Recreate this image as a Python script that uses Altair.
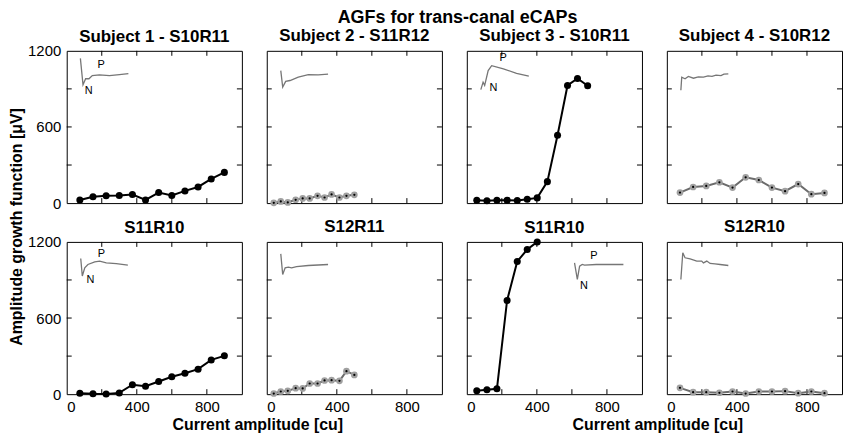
import altair as alt
import pandas as pd

FONT = "Liberation Sans"
MAIN_TITLE = "AGFs for trans-canal eCAPs"
X_TITLE = "Current amplitude [cu]"
Y_TITLE = "Amplitude growth function [μV]"

panel_titles = ["Subject 1 - S10R11", "Subject 2 - S11R12", "Subject 3 - S10R11", "Subject 4 - S10R12",
                "S11R10", "S12R11", "S11R10", "S12R10"]
panel_styles = ["black", "gray", "black", "gray", "black", "gray", "black", "gray"]

x_ticks_vals = [200, 400, 600, 800]
y_ticks_vals = [300, 600, 900]
x_label_vals = [0, 400, 800]
y_label_vals = [0, 600, 1200]

# AGF data (current amplitude [cu], amplitude [uV])
p1_x = [75, 150, 225, 300, 375, 450, 525, 600, 675, 750, 825, 900]
p1_y = [25, 50, 57, 60, 68, 25, 83, 60, 96, 127, 190, 242]
p2_x = [40, 80, 120, 165, 205, 245, 290, 330, 370, 415, 455, 500]
p2_y = [2, 13, 5, 26, 37, 37, 57, 44, 68, 44, 57, 65]
p3_x = [57, 115, 172, 230, 288, 345, 402, 460, 518, 575, 632, 690]
p3_y = [23, 18, 23, 23, 21, 31, 41, 169, 535, 927, 982, 925]
p4_x = [75, 150, 225, 300, 375, 450, 525, 600, 675, 750, 825, 900]
p4_y = [83, 127, 135, 164, 122, 203, 182, 122, 94, 150, 70, 80]
p5_x = [75, 150, 225, 300, 375, 450, 525, 600, 675, 750, 825, 900]
p5_y = [8, 3, 2, 10, 75, 63, 100, 137, 165, 197, 270, 302]
p6_x = [40, 80, 120, 165, 205, 245, 290, 330, 370, 415, 455, 500]
p6_y = [5, 21, 26, 47, 45, 84, 84, 108, 110, 105, 181, 152]
p7_x = [57, 115, 172, 230, 288, 345, 402]
p7_y = [27, 35, 42, 739, 1046, 1140, 1200]
p8_x = [75, 150, 225, 300, 375, 450, 525, 600, 675, 750, 825, 900]
p8_y = [50, 16, 16, 11, 21, 5, 21, 21, 24, 8, 21, 8]

# inset eCAP waveforms (drawn in panel data coordinates)
w1_x = [78, 93, 108, 127, 146, 187, 244, 301, 352]
w1_y = [1140, 933, 980, 980, 1005, 1011, 1005, 1013, 1021]
w2_x = [80, 91, 108, 133, 180, 237, 294, 350]
w2_y = [1044, 914, 959, 966, 992, 1013, 1011, 1016]
w3_x = [80, 93, 102, 122, 142, 209, 284, 354]
w3_y = [894, 953, 928, 1044, 1083, 1058, 1023, 1000]
w4_x = [80, 85, 104, 123, 152, 180, 209, 235, 258, 281, 309, 326, 351]
w4_y = [889, 992, 980, 998, 984, 994, 992, 1003, 998, 1009, 1005, 1016, 1019]
w5_x = [80, 89, 103, 121, 160, 188, 226, 283, 349]
w5_y = [1069, 931, 996, 1022, 1043, 1049, 1035, 1028, 1017]
w6_x = [80, 91, 105, 123, 142, 170, 237, 350]
w6_y = [1106, 943, 996, 1001, 996, 1006, 1014, 1022]
w7_x = [615, 631, 644, 659, 672, 739, 894]
w7_y = [1035, 904, 1009, 1022, 1017, 1022, 1022]
w8_x = [80, 91, 104, 133, 171, 199, 209, 228, 247, 275, 304, 351]
w8_y = [904, 1114, 1075, 1067, 1049, 1049, 1035, 1049, 1030, 1027, 1022, 1014]

# P / N peak labels of the insets
lab_text = ["P", "N"]
lab1_x, lab1_y = [197, 125], [1085, 880]
lab3_x, lab3_y = [207, 152], [1140, 903]
lab5_x, lab5_y = [198, 135], [1105, 896]
lab7_x, lab7_y = [726, 669], [1085, 855]

agf = [(p1_x, p1_y), (p2_x, p2_y), (p3_x, p3_y), (p4_x, p4_y),
       (p5_x, p5_y), (p6_x, p6_y), (p7_x, p7_y), (p8_x, p8_y)]
waves = [(w1_x, w1_y), (w2_x, w2_y), (w3_x, w3_y), (w4_x, w4_y),
         (w5_x, w5_y), (w6_x, w6_y), (w7_x, w7_y), (w8_x, w8_y)]
labels = {0: (lab1_x, lab1_y), 2: (lab3_x, lab3_y), 4: (lab5_x, lab5_y), 6: (lab7_x, lab7_y)}

W, H = 176, 153
HSP, VSP = 25, 39
TL = 5
YLAB = 15
PT_SIZE = 50


def title_offset(i):
    # compensate for items overhanging the top edge (y labels, top data point)
    base = 5
    if i % 4 == 0:
        return base - YLAB / 2
    if max(agf[i][1]) >= 1200:
        return base - (PT_SIZE / 3.14159) ** 0.5
    return base


xscale = alt.Scale(domain=[0, 1000], nice=False, zero=False)
yscale = alt.Scale(domain=[0, 1200], nice=False, zero=False)


def enc_x(field, row, col):
    if row == 1:
        kw = dict(values=x_label_vals, ticks=False, domain=False, grid=False, format="d",
                  labelFontSize=15, labelPadding=5, labelFont=FONT, labelColor="black")
        if col in (0, 2):
            kw.update(title=X_TITLE, titleFontSize=16, titleFont=FONT, titleFontWeight="bold",
                      titleColor="black", titleX=W + HSP / 2 + 3, titleY=22, titleBaseline="top",
                      titleAlign="center")
            return alt.X(field + ":Q", scale=xscale, axis=alt.Axis(**kw))
        return alt.X(field + ":Q", scale=xscale, axis=alt.Axis(**kw), title=None)
    return alt.X(field + ":Q", scale=xscale, axis=None)


def enc_y(field, row, col):
    if col == 0:
        kw = dict(values=y_label_vals, ticks=False, domain=False, grid=False, format="d",
                  labelFontSize=YLAB, labelPadding=6, labelFont=FONT, labelColor="black")
        if row == 0:
            kw.update(title=Y_TITLE, titleFontSize=16, titleFont=FONT, titleFontWeight="bold",
                      titleColor="black", titleY=(2 * H + VSP) / 2 + 4, titleX=-42,
                      titleAngle=270, titleBaseline="bottom", titleAlign="center")
            return alt.Y(field + ":Q", scale=yscale, axis=alt.Axis(**kw))
        return alt.Y(field + ":Q", scale=yscale, axis=alt.Axis(**kw), title=None)
    return alt.Y(field + ":Q", scale=yscale, axis=None)


def panel(i):
    row, col = divmod(i, 4)
    X = lambda f: enc_x(f, row, col)
    Y = lambda f: enc_y(f, row, col)
    tx = pd.DataFrame({"v": x_ticks_vals})
    ty = pd.DataFrame({"v": y_ticks_vals})
    layers = [
        alt.Chart(tx).mark_rule(color="black", strokeWidth=1).encode(x=X("v"), y=alt.value(0), y2=alt.value(TL)),
        alt.Chart(tx).mark_rule(color="black", strokeWidth=1).encode(x=X("v"), y=alt.value(H), y2=alt.value(H - TL)),
        alt.Chart(ty).mark_rule(color="black", strokeWidth=1).encode(y=Y("v"), x=alt.value(0), x2=alt.value(TL)),
        alt.Chart(ty).mark_rule(color="black", strokeWidth=1).encode(y=Y("v"), x=alt.value(W), x2=alt.value(W - TL)),
    ]
    wx, wy = waves[i]
    wdf = pd.DataFrame({"x": wx, "y": wy, "i": list(range(len(wx)))})
    layers.append(alt.Chart(wdf).mark_line(color="#767676", strokeWidth=1.3).encode(
        x=X("x"), y=Y("y"), order="i:Q"))
    if i in labels:
        lx, ly = labels[i]
        ldf = pd.DataFrame({"x": lx, "y": ly, "t": lab_text})
        layers.append(alt.Chart(ldf).mark_text(font=FONT, fontSize=11, color="black",
                                               align="center", baseline="middle").encode(
            x=X("x"), y=Y("y"), text="t:N"))
    ax, ay = agf[i]
    df = pd.DataFrame({"x": ax, "y": ay, "i": list(range(len(ax)))})
    if panel_styles[i] == "black":
        layers.append(alt.Chart(df).mark_line(color="black", strokeWidth=2).encode(
            x=X("x"), y=Y("y"), order="i:Q"))
        layers.append(alt.Chart(df).mark_circle(size=PT_SIZE, color="black", opacity=1).encode(
            x=X("x"), y=Y("y")))
    else:
        layers.append(alt.Chart(df).mark_line(color="#6c6c6c", strokeWidth=2).encode(
            x=X("x"), y=Y("y"), order="i:Q"))
        layers.append(alt.Chart(df).mark_circle(size=45, color="#a0a0a0", opacity=1).encode(
            x=X("x"), y=Y("y")))
        layers.append(alt.Chart(df).mark_circle(size=5, color="black", opacity=1).encode(
            x=X("x"), y=Y("y")))
    return alt.layer(*layers).properties(
        width=W, height=H,
        title=alt.TitleParams(panel_titles[i], fontSize=17, font=FONT, fontWeight="bold",
                              color="black", offset=title_offset(i), anchor="middle", frame="group"))


chart = alt.concat(*[panel(i) for i in range(8)], columns=4,
                   spacing={"row": VSP, "column": HSP}, bounds="flush").properties(
    title=alt.TitleParams(MAIN_TITLE, fontSize=18, font=FONT, fontWeight="bold", color="black",
                          offset=0, anchor="middle", dx=32),
    padding=0,
).configure_view(stroke="black", strokeWidth=1).configure_axis(grid=False)

chart.save("out.html", embed_options={"renderer": "svg", "actions": False})
